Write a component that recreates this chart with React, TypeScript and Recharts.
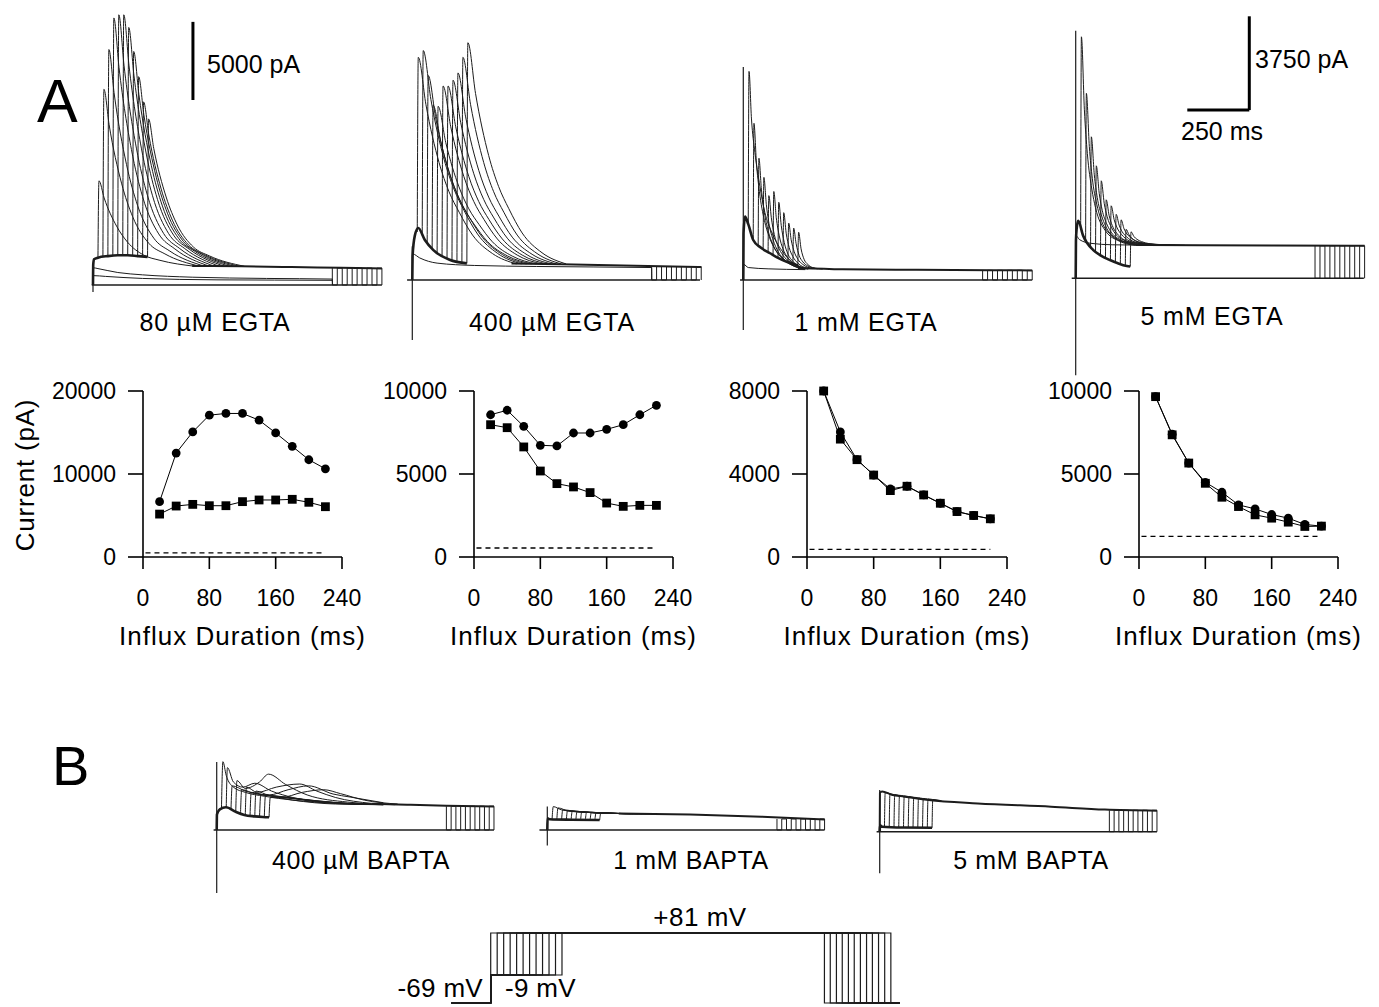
import React from 'react';
import { LineChart, Line, XAxis, YAxis, ReferenceLine } from 'recharts';

type Pt = [number, number];

const FONT = '"Liberation Sans", Arial, Helvetica, sans-serif';
const INK = '#1c1c1c';

// ---------- shared categories ----------
const DURATIONS = [20, 40, 60, 80, 100, 120, 140, 160, 180, 200, 220];
const X_TICKS = [0, 80, 160, 240];
const END_TIMES = [965, 985, 1005, 1025, 1045, 1065, 1085, 1105, 1125, 1145, 1165];

// ---------- dose plots (peak = circles, sq = squares) ----------
const EGTA80_PEAK = [6667, 12525, 15071, 17091, 17293, 17293, 16485, 14949, 13333, 11717, 10626];
const EGTA80_SQ = [5170, 6140, 6340, 6180, 6180, 6670, 6870, 6870, 6950, 6590, 6060];
const EGTA400_PEAK = [8570, 8840, 7870, 6730, 6690, 7470, 7470, 7690, 7970, 8570, 9140];
const EGTA400_SQ = [7970, 7790, 6630, 5180, 4420, 4220, 3880, 3250, 3050, 3110, 3110];
const EGTA1_PEAK = [8000, 6030, 4690, 3950, 3280, 3410, 2990, 2590, 2190, 2000, 1840];
const EGTA1_SQ = [8000, 5680, 4690, 3950, 3200, 3410, 2990, 2590, 2190, 2000, 1840];
const EGTA5_PEAK = [9660, 7400, 5660, 4500, 3900, 3140, 2900, 2560, 2340, 1960, 1860];
const EGTA5_SQ = [9660, 7360, 5660, 4440, 3600, 3040, 2540, 2340, 2100, 1840, 1860];
const LEAK = [485, 542, 368, 1240];
const Y_MAX = [20000, 10000, 8000, 10000];
const Y_TICKS = [[0, 10000, 20000], [0, 5000, 10000], [0, 4000, 8000], [0, 5000, 10000]];

// ---------- current traces, 80 uM EGTA ----------
const P1_INFLUX: Pt[] = [[0, 0], [1, 1300], [4, 1650], [20, 1750], [60, 1850], [100, 1900], [140, 1900], [180, 1850], [220, 1800]];
const P1_TAILS: Pt[][] = [
  [[20, 1750], [24, 6667], [45, 5570], [95, 3770], [140, 2730], [205, 1910], [270, 1580], [410, 1200]],
  [[40, 1780], [44, 12525], [65, 10260], [115, 6520], [160, 4370], [225, 2670], [290, 1990], [430, 1200]],
  [[60, 1850], [64, 15071], [85, 12300], [135, 7720], [180, 5080], [245, 3000], [310, 2170], [450, 1200]],
  [[80, 1870], [84, 17091], [105, 13910], [155, 8670], [200, 5650], [265, 3270], [330, 2310], [470, 1200]],
  [[100, 1900], [104, 17293], [125, 14070], [175, 8760], [220, 5710], [285, 3290], [350, 2330], [490, 1200]],
  [[120, 1900], [124, 17293], [145, 14070], [195, 8760], [240, 5710], [305, 3290], [370, 2330], [510, 1200]],
  [[140, 1900], [144, 16485], [165, 13430], [215, 8380], [260, 5480], [325, 3190], [390, 2270], [530, 1200]],
  [[160, 1880], [164, 14949], [185, 12200], [235, 7660], [280, 5050], [345, 2990], [410, 2160], [550, 1200]],
  [[180, 1850], [184, 13333], [205, 10910], [255, 6900], [300, 4600], [365, 2780], [430, 2050], [570, 1200]],
  [[200, 1820], [204, 11717], [225, 9610], [275, 6140], [320, 4150], [385, 2570], [450, 1940], [590, 1200]],
  [[220, 1800], [224, 10626], [245, 8740], [295, 5630], [340, 3840], [405, 2430], [470, 1860], [610, 1200]],
];
const P1_PLATEAU: Pt[] = [[400, 1220], [600, 1200], [800, 1150], [1000, 1100], [1165, 1060]];
const P1_CTRL: Pt[][] = [
  [[0, 0], [2, 1100], [20, 1050], [100, 800], [200, 650], [400, 500], [700, 420], [965, 380], [966, 0]],
  [[0, 0], [2, 600], [50, 550], [200, 420], [500, 330], [965, 300], [966, 0]],
];

// ---------- 400 uM EGTA ----------
const P2_INFLUX: Pt[] = [[0, 0], [1, 900], [10, 1700], [24, 2000], [50, 1550], [85, 1150], [150, 780], [220, 640]];
const P2_TAILS: Pt[][] = [
  [[20, 1850], [24, 8574], [55, 6750], [108, 4520], [148, 3400], [189, 2610], [243, 1730], [323, 1020], [420, 620]],
  [[40, 1720], [44, 8835], [75, 6950], [128, 4650], [168, 3500], [209, 2670], [263, 1770], [343, 1030], [440, 620]],
  [[60, 1450], [64, 7871], [95, 6200], [148, 4170], [188, 3160], [229, 2430], [283, 1640], [363, 980], [460, 620]],
  [[80, 1200], [84, 6727], [115, 5320], [168, 3610], [208, 2760], [249, 2150], [303, 1480], [383, 930], [480, 620]],
  [[100, 1050], [104, 6687], [135, 5290], [188, 3590], [228, 2740], [269, 2140], [323, 1470], [403, 920], [500, 620]],
  [[120, 950], [124, 7470], [155, 5900], [208, 3980], [248, 3020], [289, 2330], [343, 1580], [423, 960], [520, 620]],
  [[140, 850], [144, 7470], [175, 5900], [228, 3980], [268, 3020], [309, 2330], [363, 1580], [443, 960], [540, 620]],
  [[160, 770], [164, 7691], [195, 6070], [248, 4090], [288, 3100], [329, 2390], [383, 1610], [463, 970], [560, 620]],
  [[180, 720], [184, 7972], [215, 6280], [268, 4220], [308, 3190], [349, 2460], [403, 1650], [483, 990], [580, 620]],
  [[200, 680], [204, 8574], [235, 6750], [288, 4520], [328, 3400], [369, 2610], [423, 1730], [503, 1020], [600, 620]],
  [[220, 640], [224, 9137], [255, 7180], [308, 4790], [348, 3600], [389, 2750], [443, 1810], [523, 1050], [620, 620]],
];
const P2_PLATEAU: Pt[] = [[400, 640], [600, 610], [800, 570], [1000, 530], [1165, 500]];
const P2_CTRL: Pt[][] = [[[0, 0], [2, 1000], [30, 850], [100, 650], [250, 560], [500, 520], [965, 480], [966, 0]]];

// ---------- 1 mM EGTA ----------
const P3_INFLUX: Pt[] = [[0, 0], [1, 1800], [7, 2440], [20, 2150], [40, 1540], [70, 1250], [108, 1030], [140, 850], [175, 700], [220, 560]];
const P3_TAILS: Pt[][] = [
  [[20, 2150], [23, 8032], [33, 6200], [47, 4900], [67, 3600], [87, 2600], [114, 1850], [154, 1150], [208, 600], [262, 420]],
  [[40, 1540], [43, 6032], [53, 4500], [65, 3400], [85, 2300], [105, 1650], [130, 1150], [170, 750], [230, 450]],
  [[60, 1350], [63, 4688], [73, 3500], [85, 2600], [100, 1900], [120, 1350], [150, 900], [190, 600], [250, 420]],
  [[80, 1200], [83, 3952], [93, 2900], [105, 2100], [120, 1550], [140, 1100], [170, 750], [220, 480]],
  [[100, 1080], [103, 3248], [113, 2400], [125, 1750], [140, 1300], [160, 950], [190, 680], [240, 450]],
  [[120, 980], [123, 3408], [133, 2400], [145, 1700], [160, 1200], [180, 850], [210, 600], [260, 430]],
  [[140, 880], [143, 2992], [153, 2100], [165, 1450], [180, 1000], [200, 720], [240, 480]],
  [[160, 790], [163, 2592], [173, 1800], [185, 1250], [200, 900], [220, 650], [260, 450]],
  [[180, 720], [183, 2192], [193, 1550], [205, 1100], [220, 800], [240, 600], [280, 440]],
  [[200, 640], [203, 2000], [213, 1400], [225, 950], [240, 700], [260, 540], [300, 430]],
  [[220, 560], [223, 1840], [233, 1200], [245, 800], [260, 600], [280, 480], [320, 420]],
];
const P3_PLATEAU: Pt[] = [[220, 460], [400, 410], [700, 390], [1000, 375], [1165, 370]];
const P3_CTRL: Pt[][] = [[[0, 0], [2, 600], [20, 480], [100, 430], [250, 400]]];

// ---------- 5 mM EGTA ----------
const P4_INFLUX: Pt[] = [[0, 0], [1, 1500], [4, 2000], [10, 2300], [30, 1700], [71, 1130], [100, 920], [138, 730], [170, 600], [206, 490], [220, 470]];
const P4_TAILS: Pt[][] = [
  [[20, 1950], [23, 9660], [35, 6740], [47, 4990], [65, 3570], [80, 2820], [120, 1900], [175, 1490], [240, 1320]],
  [[40, 1550], [43, 7400], [55, 5270], [67, 4000], [85, 2960], [100, 2410], [140, 1750], [195, 1440], [260, 1320]],
  [[60, 1250], [63, 5660], [75, 4140], [87, 3230], [105, 2490], [120, 2100], [160, 1620], [215, 1410], [280, 1320]],
  [[80, 1080], [83, 4500], [95, 3390], [107, 2720], [125, 2180], [140, 1890], [180, 1540], [235, 1380], [300, 1320]],
  [[100, 920], [103, 3900], [115, 3000], [127, 2460], [145, 2020], [160, 1780], [200, 1500], [255, 1370], [320, 1320]],
  [[120, 840], [123, 3140], [135, 2500], [147, 2120], [165, 1810], [180, 1650], [220, 1450], [340, 1320]],
  [[140, 750], [143, 2900], [155, 2350], [167, 2020], [185, 1750], [200, 1600], [240, 1430], [360, 1320]],
  [[160, 670], [163, 2560], [175, 2130], [187, 1870], [205, 1660], [220, 1540], [260, 1410], [380, 1320]],
  [[180, 590], [183, 2340], [195, 1980], [207, 1770], [225, 1600], [240, 1500], [280, 1390], [400, 1320]],
  [[200, 520], [203, 1960], [215, 1740], [227, 1600], [245, 1490], [260, 1440], [300, 1370], [420, 1320]],
  [[220, 470], [223, 1860], [235, 1670], [247, 1560], [265, 1470], [280, 1420], [320, 1360], [440, 1320]],
];
const P4_PLATEAU: Pt[] = [[240, 1330], [500, 1320], [800, 1310], [1165, 1300]];
const P4_CTRL: Pt[][] = [[[0, 0], [2, 1700], [15, 1550], [60, 1400], [150, 1340], [240, 1330]]];

// ---------- BAPTA traces ----------
const B1_INFLUX: Pt[] = [[0, 0], [1, 1200], [13, 1590], [39, 1750], [80, 1400], [116, 1160], [160, 1050], [193, 1000], [220, 980]];
const B1_TAILS: Pt[][] = [
  [[20, 1650], [26, 5260], [40, 4200], [70, 3300], [120, 2900], [200, 2600], [320, 2300], [500, 2050], [700, 1950]],
  [[40, 1750], [45, 4800], [70, 3700], [110, 3300], [160, 3600], [230, 3000], [320, 2500], [500, 2100], [700, 1950]],
  [[60, 1600], [65, 3400], [120, 3000], [200, 2700], [320, 2300], [500, 2000], [700, 1950]],
  [[80, 1400], [85, 3800], [120, 3200], [180, 3700], [218, 4300], [290, 3500], [380, 2700], [550, 2150], [750, 1950]],
  [[100, 1250], [105, 3100], [160, 2800], [260, 2600], [400, 2200], [550, 2000], [700, 1950]],
  [[120, 1150], [125, 3300], [170, 2900], [250, 3300], [349, 3540], [420, 3000], [500, 2500], [650, 2050]],
  [[140, 1080], [145, 2900], [200, 2700], [300, 2500], [450, 2150], [600, 2000]],
  [[160, 1050], [165, 3000], [220, 2700], [300, 3100], [386, 3400], [489, 2770], [560, 2540], [700, 2100]],
  [[180, 1020], [185, 2700], [250, 2600], [350, 2400], [500, 2100], [650, 1980]],
  [[200, 1000], [205, 2700], [270, 2500], [360, 2900], [450, 3100], [520, 2800], [620, 2300], [760, 2000]],
  [[220, 980], [225, 2500], [300, 2450], [420, 2250], [560, 2050], [700, 1980]],
];
const B1_PLATEAU: Pt[] = [[650, 2030], [800, 1950], [965, 1870], [1165, 1800]];

const B2_INFLUX: Pt[] = [[0, 0], [1, 900], [10, 830], [100, 790], [220, 770]];
const B2_TAILS: Pt[][] = [
  [[20, 820], [25, 1800], [60, 1550], [150, 1380], [300, 1270]],
  [[40, 810], [45, 1700], [90, 1450], [200, 1330], [350, 1260]],
  [[60, 800], [65, 1550], [140, 1380], [300, 1270]],
  [[80, 795], [85, 1500], [180, 1340], [330, 1260]],
  [[100, 790], [105, 1450], [200, 1320], [350, 1255]],
  [[120, 785], [125, 1420], [220, 1310], [360, 1255]],
  [[140, 780], [145, 1400], [240, 1300], [380, 1250]],
  [[160, 778], [165, 1380], [260, 1290], [400, 1250]],
  [[180, 775], [185, 1360], [280, 1280], [420, 1245]],
  [[200, 772], [205, 1340], [300, 1270], [440, 1240]],
  [[220, 770], [225, 1320], [320, 1265], [460, 1240]],
];
const B2_PLATEAU: Pt[] = [[300, 1270], [600, 1190], [900, 1020], [1165, 800]];

const B3_INFLUX: Pt[] = [[0, 0], [1, 500], [10, 380], [100, 320], [220, 300]];
const B3_TAILS: Pt[][] = [
  [[20, 360], [23, 3000], [60, 2800]],
  [[40, 340], [43, 2900], [80, 2750]],
  [[60, 330], [63, 2850], [100, 2700]],
  [[80, 325], [83, 2800], [120, 2650]],
  [[100, 320], [103, 2750], [140, 2600]],
  [[120, 315], [123, 2700], [160, 2550]],
  [[140, 310], [143, 2650], [180, 2500]],
  [[160, 305], [163, 2600], [200, 2460]],
  [[180, 300], [183, 2560], [220, 2420]],
  [[200, 300], [203, 2520], [240, 2400]],
  [[220, 300], [223, 2480], [260, 2380]],
];
const B3_PLATEAU: Pt[] = [[0, 0], [1, 3000], [10, 3100], [50, 2850], [103, 2700], [206, 2440], [412, 2180], [720, 1925], [946, 1700], [1165, 1620]];

// ---------- voltage protocol ----------
const HOLD_MV = -69;
const INFLUX_MV = -9;
const DEPOL_MV = 81;
const V_DURATIONS = [0, 20, 40, 60, 80, 100, 120, 140, 160, 180, 200, 220];
const V_ENDS = [1030, 1048, 1067, 1085, 1104, 1122, 1141, 1160, 1178, 1197, 1216, 1235];

// ---------- helpers ----------
const toPts = (a: Pt[]) => a.map(([t, v]) => ({ t, v }));

function endHatch(ends: number[], level: number): Pt[] {
  const out: Pt[] = [];
  ends.forEach((e, i) => {
    if (i % 2 === 0) out.push([e, level], [e, 0]);
    else out.push([e, 0], [e, level]);
  });
  return out;
}

type PanelProps = {
  box: number[];
  dx: number[];
  dy: number[];
  influx: Pt[];
  tails: Pt[][];
  plateau: Pt[];
  ctrl: Pt[][];
  ends: number[];
  endLevel: number;
  transient: number[];
  zero: number[];
  bars?: Pt[][];
};

function TracePanel(p: PanelProps) {
  const bars = p.bars || [];
  return (
    <div style={{ position: 'absolute', left: p.box[0], top: p.box[1], width: p.box[2], height: p.box[3] }}>
      <LineChart width={p.box[2]} height={p.box[3]} margin={{ top: 0, right: 0, bottom: 0, left: 0 }}>
        <XAxis type="number" dataKey="t" domain={p.dx} hide allowDataOverflow />
        <YAxis type="number" dataKey="v" domain={p.dy} hide allowDataOverflow />
        <ReferenceLine segment={[{ x: p.zero[0], y: 0 }, { x: p.zero[1], y: 0 }]} stroke={INK} strokeWidth={1.4} />
        <ReferenceLine segment={[{ x: 0, y: p.transient[0] }, { x: 0, y: p.transient[1] }]} stroke={INK} strokeWidth={1.2} />
        {bars.map((b, i) => (
          <ReferenceLine key={'bar' + i} segment={[{ x: b[0][0], y: b[0][1] }, { x: b[1][0], y: b[1][1] }]} stroke="#000" strokeWidth={3} />
        ))}
        {p.ctrl.map((c, i) => (
          <Line key={'c' + i} data={toPts(c)} dataKey="v" type="monotone" stroke={INK} strokeWidth={1} dot={false} activeDot={false} isAnimationActive={false} />
        ))}
        <Line data={toPts(endHatch(p.ends, p.endLevel))} dataKey="v" type="linear" stroke={INK} strokeWidth={1} dot={false} activeDot={false} isAnimationActive={false} />
        <Line data={toPts(p.plateau)} dataKey="v" type="monotone" stroke={INK} strokeWidth={2} dot={false} activeDot={false} isAnimationActive={false} />
        {p.tails.map((c, i) => (
          <Line key={'t' + i} data={toPts(c)} dataKey="v" type="monotone" stroke={INK} strokeWidth={1} dot={false} activeDot={false} isAnimationActive={false} />
        ))}
        <Line data={toPts(p.influx)} dataKey="v" type="monotone" stroke={INK} strokeWidth={2.6} dot={false} activeDot={false} isAnimationActive={false} />
      </LineChart>
    </div>
  );
}

const SquareDot = (props: any) => {
  const { cx, cy, index } = props;
  if (cx == null || cy == null) return <g key={'sq' + index} />;
  return <rect key={'sq' + index} x={cx - 4.4} y={cy - 4.4} width={8.8} height={8.8} fill="#000" />;
};

function DosePlot({ plotLeft, plotW, peak, sq, yMax, yTicks, leak }: { plotLeft: number; plotW: number; peak: number[]; sq: number[]; yMax: number; yTicks: number[]; leak: number }) {
  const YW = 100;
  const MT = 20;
  const MR = 40;
  const XH = 100;
  const PH = 166;
  const circ = DURATIONS.map((d, i) => ({ t: d, v: peak[i] }));
  const squares = DURATIONS.map((d, i) => ({ t: d, v: sq[i] }));
  const axisStyle = { stroke: '#000', strokeWidth: 1.6 };
  return (
    <div style={{ position: 'absolute', left: plotLeft - YW, top: 391 - MT }}>
      <LineChart width={YW + plotW + MR} height={MT + PH + XH} margin={{ top: MT, right: MR, bottom: 0, left: 0 }}>
        <XAxis
          type="number"
          dataKey="t"
          domain={[0, 240]}
          ticks={X_TICKS}
          height={XH}
          tickSize={12}
          tickMargin={21}
          axisLine={axisStyle}
          tickLine={axisStyle}
          tick={{ fontSize: 23, fill: '#000', fontFamily: FONT }}
          label={{ value: 'Influx Duration (ms)', position: 'insideBottom', offset: 12, fontSize: 26, fill: '#000', fontFamily: FONT, letterSpacing: 1 }}
        />
        <YAxis
          type="number"
          dataKey="v"
          domain={[0, yMax]}
          ticks={yTicks}
          width={YW}
          tickSize={15}
          tickMargin={12}
          axisLine={axisStyle}
          tickLine={axisStyle}
          tick={{ fontSize: 23, fill: '#000', fontFamily: FONT }}
        />
        <ReferenceLine segment={[{ x: 3, y: leak }, { x: 220, y: leak }]} stroke="#000" strokeWidth={1.3} strokeDasharray="5 4" />
        <Line data={squares} dataKey="v" type="linear" stroke="#000" strokeWidth={1} dot={SquareDot} activeDot={false} isAnimationActive={false} />
        <Line data={circ} dataKey="v" type="linear" stroke="#000" strokeWidth={1} dot={{ r: 4.4, fill: '#000', stroke: '#000', strokeWidth: 0 }} activeDot={false} isAnimationActive={false} />
      </LineChart>
    </div>
  );
}

function VoltagePanel() {
  const paths: Pt[][] = V_DURATIONS.map((d, i) => [
    [-121, HOLD_MV], [0, HOLD_MV], [0, INFLUX_MV], [d, INFLUX_MV], [d, DEPOL_MV],
    [V_ENDS[i], DEPOL_MV], [V_ENDS[i], HOLD_MV], [1262, HOLD_MV],
  ]);
  return (
    <div style={{ position: 'absolute', left: 440, top: 900 }}>
      <LineChart width={470} height={107} margin={{ top: 0, right: 0, bottom: 0, left: 0 }}>
        <XAxis type="number" dataKey="t" domain={[-156.5, 1294.1]} hide allowDataOverflow />
        <YAxis type="number" dataKey="v" domain={[-77.6, 151.7]} hide allowDataOverflow />
        {paths.map((p, i) => (
          <Line key={'v' + i} data={toPts(p)} dataKey="v" type="linear" stroke={INK} strokeWidth={1.2} dot={false} activeDot={false} isAnimationActive={false} />
        ))}
      </LineChart>
    </div>
  );
}

const textStyle: React.CSSProperties = { fontFamily: FONT, fill: '#000' };

export default function App() {
  return (
    <div style={{ position: 'absolute', left: 0, top: 0, width: 1379, height: 1007, background: '#fff', overflow: 'hidden' }}>
      {/* Panel A traces */}
      <TracePanel box={[80, 0, 320, 300]} dx={[-52.4, 1237.9]} dy={[-960, 18240]}
        influx={P1_INFLUX} tails={P1_TAILS} plateau={P1_PLATEAU} ctrl={P1_CTRL}
        ends={END_TIMES} endLevel={1080} transient={[-450, 1300]} zero={[-5, 1165]}
        bars={[[[403, 11840], [403, 16840]]]} />
      <TracePanel box={[400, 30, 310, 320]} dx={[-49.6, 1200.4]} dy={[-2695, 9625]}
        influx={P2_INFLUX} tails={P2_TAILS} plateau={P2_PLATEAU} ctrl={P2_CTRL}
        ends={END_TIMES} endLevel={515} transient={[-2310, 1300]} zero={[-21, 1160]} />
      <TracePanel box={[730, 50, 310, 300]} dx={[-53.6, 1196.4]} dy={[-2695, 8855]}
        influx={P3_INFLUX} tails={P3_TAILS} plateau={P3_PLATEAU} ctrl={P3_CTRL}
        ends={END_TIMES} endLevel={372} transient={[-1925, 8200]} zero={[-13, 1165]} />
      <TracePanel box={[1060, 0, 319, 390]} dx={[-63.3, 1223]} dy={[-4468, 11132]}
        influx={P4_INFLUX} tails={P4_TAILS} plateau={P4_PLATEAU} ctrl={P4_CTRL}
        ends={END_TIMES} endLevel={1300} transient={[-3880, 9900]} zero={[-16, 1162]}
        bars={[[[700, 6730], [700, 10480]], [[450, 6730], [700, 6730]]]} />

      {/* Panel A dose plots */}
      <DosePlot plotLeft={143} plotW={199} peak={EGTA80_PEAK} sq={EGTA80_SQ} yMax={Y_MAX[0]} yTicks={Y_TICKS[0]} leak={LEAK[0]} />
      <DosePlot plotLeft={474} plotW={199} peak={EGTA400_PEAK} sq={EGTA400_SQ} yMax={Y_MAX[1]} yTicks={Y_TICKS[1]} leak={LEAK[1]} />
      <DosePlot plotLeft={807} plotW={200} peak={EGTA1_PEAK} sq={EGTA1_SQ} yMax={Y_MAX[2]} yTicks={Y_TICKS[2]} leak={LEAK[2]} />
      <DosePlot plotLeft={1139} plotW={199} peak={EGTA5_PEAK} sq={EGTA5_SQ} yMax={Y_MAX[3]} yTicks={Y_TICKS[3]} leak={LEAK[3]} />

      {/* Panel B traces */}
      <TracePanel box={[200, 750, 300, 150]} dx={[-70.2, 1190.3]} dy={[-5390, 6160]}
        influx={B1_INFLUX} tails={B1_TAILS} plateau={B1_PLATEAU} ctrl={[]}
        ends={END_TIMES} endLevel={1830} transient={[-4850, 5240]} zero={[-13, 1165]} />
      <TracePanel box={[530, 750, 310, 150]} dx={[-72.7, 1229.8]} dy={[-5390, 6160]}
        influx={B2_INFLUX} tails={B2_TAILS} plateau={B2_PLATEAU} ctrl={[]}
        ends={END_TIMES} endLevel={850} transient={[-1200, 1800]} zero={[-33, 1165]} />
      <TracePanel box={[865, 750, 310, 150]} dx={[-61.8, 1240.8]} dy={[-5259, 6291]}
        influx={B3_INFLUX} tails={B3_TAILS} plateau={B3_PLATEAU} ctrl={[]}
        ends={END_TIMES} endLevel={1650} transient={[-3200, 3210]} zero={[-13, 1165]} />

      <VoltagePanel />

      <svg width={1379} height={1007} style={{ position: 'absolute', left: 0, top: 0, pointerEvents: 'none' }}>
        <text x={37} y={122} fontSize={61} style={textStyle}>A</text>
        <text x={52} y={785} fontSize={56} style={textStyle}>B</text>

        <text x={207} y={73} fontSize={25} style={textStyle}>5000 pA</text>
        <text x={1255} y={68} fontSize={25} style={textStyle}>3750 pA</text>
        <text x={1222} y={140} fontSize={25} textAnchor="middle" style={textStyle}>250 ms</text>

        <text x={215} y={331} fontSize={25} textAnchor="middle" letterSpacing={0.8} style={textStyle}>80 µM EGTA</text>
        <text x={552} y={331} fontSize={25} textAnchor="middle" letterSpacing={0.8} style={textStyle}>400 µM EGTA</text>
        <text x={866} y={331} fontSize={25} textAnchor="middle" letterSpacing={0.8} style={textStyle}>1 mM EGTA</text>
        <text x={1212} y={325} fontSize={25} textAnchor="middle" letterSpacing={0.8} style={textStyle}>5 mM EGTA</text>

        <text x={25} y={475} fontSize={26} textAnchor="middle" dominantBaseline="central" letterSpacing={0.8} transform="rotate(-90 25 475)" style={textStyle}>Current (pA)</text>

        <text x={361} y={869} fontSize={25} textAnchor="middle" letterSpacing={0.6} style={textStyle}>400 µM BAPTA</text>
        <text x={691} y={869} fontSize={25} textAnchor="middle" letterSpacing={0.6} style={textStyle}>1 mM BAPTA</text>
        <text x={1031} y={869} fontSize={25} textAnchor="middle" letterSpacing={0.6} style={textStyle}>5 mM BAPTA</text>

        <text x={700} y={926} fontSize={26} textAnchor="middle" letterSpacing={0.5} style={textStyle}>+81 mV</text>
        <text x={483} y={997} fontSize={26} textAnchor="end" letterSpacing={0.3} style={textStyle}>-69 mV</text>
        <text x={505} y={997} fontSize={26} letterSpacing={0.3} style={textStyle}>-9 mV</text>
      </svg>
    </div>
  );
}
